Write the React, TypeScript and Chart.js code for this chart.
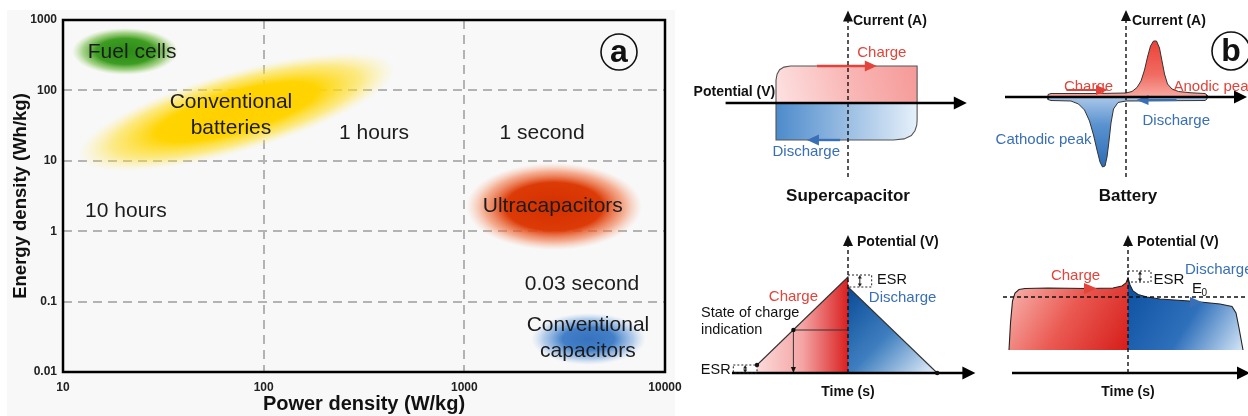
import React, { useEffect, useRef } from 'react';
import { Chart, registerables } from 'chart.js';

Chart.register(...registerables);

const FONT = '"Liberation Sans", Arial, Helvetica, sans-serif';

// ---------------- Panel (a): Ragone plot ----------------
const powerTicks = [10, 100, 1000, 10000];
const powerTickLabels = ['10', '100', '1000', '10000'];
const energyTicks = [0.01, 0.1, 1, 10, 100, 1000];
const energyTickLabels = ['0.01', '0.1', '1', '10', '100', '1000'];

const regionNames = ['Fuel cells', 'Conventional batteries', 'Ultracapacitors', 'Conventional capacitors'];
const regionPowerMin = [11.1, 11.9, 1020, 2150];
const regionPowerMax = [37.4, 451, 7670, 8030];
const regionEnergyMin = [166, 11.3, 0.54, 0.0126];
const regionEnergyMax = [770, 215, 9.3, 0.069];

const labelTexts = ['Fuel cells', 'Conventional\nbatteries', '1 hours', '1 second', '10 hours', 'Ultracapacitors', '0.03 second', 'Conventional\ncapacitors'];
const labelPower = [22.1, 68.7, 355, 2440, 20.6, 2760, 3860, 4130];
const labelEnergy = [352, 44.9, 24.9, 24.9, 1.95, 2.3, 0.174, 0.0299];

// ---------------- Panel (b): schematic curves ----------------
// Supercapacitor CV (potential V, current A)
const scCvChargeV = [-1.0, -1.0, -0.985, -0.95, -0.89, -0.8, 0.96, 0.96];
const scCvChargeI = [0, 0.62, 0.78, 0.9, 0.97, 1.0, 1.0, 0];
const scCvDischargeV = [-1.0, -1.0, 0.63, 0.78, 0.88, 0.93, 0.955, 0.96, 0.96];
const scCvDischargeI = [0, -1.0, -1.0, -0.97, -0.88, -0.75, -0.6, -0.46, 0];

// Battery CV (potential V, current A)
const batCvChargeV = [-1.56, -1.56, -1.5, -0.6, 0.0, 0.12, 0.22, 0.3, 0.37, 0.43, 0.49, 0.55, 0.61, 0.67, 0.72, 0.77, 0.83, 0.92, 1.05, 1.3, 1.58, 1.62, 1.62];
const batCvChargeI = [0, 0.25, 0.35, 0.35, 0.4, 0.55, 0.95, 1.6, 2.7, 4.0, 5.1, 5.6, 5.6, 4.9, 3.6, 2.3, 1.3, 0.8, 0.55, 0.42, 0.35, 0.2, 0];
const batCvDischargeV = [-1.56, -1.56, -1.5, -1.1, -0.95, -0.83, -0.73, -0.65, -0.58, -0.52, -0.47, -0.42, -0.38, -0.34, -0.3, -0.25, -0.16, 0, 1.58, 1.62, 1.62];
const batCvDischargeI = [0, -0.25, -0.35, -0.4, -0.7, -1.3, -2.4, -3.8, -5.3, -6.5, -7.0, -6.9, -6.0, -4.4, -2.6, -1.2, -0.55, -0.4, -0.35, -0.2, 0];

// Supercapacitor galvanostatic charge/discharge (time s, potential V)
const scGcdChargeT = [-10, -10, 0, 0];
const scGcdChargeU = [0, 0.8, 9.6, 0];
const scGcdDischargeT = [0, 0, 9.8];
const scGcdDischargeU = [0, 8.6, 0];
const scSocT = -6;
const scSocU = 4.3;

// Battery galvanostatic charge/discharge (time s, potential V)
const batGcdBase = 2.3;
const batGcdChargeT = [-11.9, -11.75, -11.55, -11.3, -10.9, -10.3, -8, -4, -1.5, -0.6, -0.2, 0, 0];
const batGcdChargeU = [2.3, 5.0, 7.2, 8.0, 8.35, 8.45, 8.5, 8.45, 8.5, 8.7, 9.0, 9.5, 2.3];
const batGcdDischargeT = [0, 0, 0.2, 0.5, 1.0, 1.9, 3.2, 6.5, 9.2, 10.4, 10.8, 11.1, 11.5];
const batGcdDischargeU = [2.3, 9.5, 8.8, 8.2, 7.85, 7.6, 7.4, 7.17, 6.9, 6.65, 6.0, 4.5, 2.3];
const batE0 = 7.6;

// ---------------- styles ----------------
const regionStyles: any[] = [
  { tilt: 0, stops: [[0, '#2a8a14'], [0.55, '#3d9c22'], [0.8, 'rgba(100,180,50,0.55)'], [1, 'rgba(150,210,100,0)']] },
  { tilt: 40, stops: [[0, '#ffd000'], [0.5, '#ffd400'], [0.78, 'rgba(255,222,40,0.55)'], [1, 'rgba(255,235,120,0)']] },
  { tilt: 0, stops: [[0, '#d33000'], [0.55, '#dc3a06'], [0.8, 'rgba(240,110,60,0.55)'], [1, 'rgba(250,160,120,0)']] },
  { tilt: 0, stops: [[0, '#3672be'], [0.45, '#4380c8'], [0.78, 'rgba(110,160,220,0.5)'], [1, 'rgba(160,195,235,0)']] },
];
const RED = '#e0443a';
const BLUE = '#3a6fb5';

function setFont(c: CanvasRenderingContext2D, size: number, weight = 'normal') {
  c.font = `${weight} ${size}px ${FONT}`;
}
function txt(c: CanvasRenderingContext2D, s: string, x: number, y: number, size: number, color = '#111', align: CanvasTextAlign = 'center', weight = 'normal') {
  c.save();
  setFont(c, size, weight);
  c.fillStyle = color;
  c.textAlign = align;
  c.textBaseline = 'middle';
  c.fillText(s, x, y);
  c.restore();
}
function arrowHead(c: CanvasRenderingContext2D, tx: number, ty: number, ang: number, len: number, w: number, color: string) {
  c.save();
  c.translate(tx, ty);
  c.rotate(ang);
  c.fillStyle = color;
  c.beginPath();
  c.moveTo(0, 0);
  c.lineTo(-len, -w / 2);
  c.lineTo(-len, w / 2);
  c.closePath();
  c.fill();
  c.restore();
}
function arrow(c: CanvasRenderingContext2D, x0: number, y0: number, x1: number, y1: number, color: string, lw: number, len: number, w: number) {
  const ang = Math.atan2(y1 - y0, x1 - x0);
  c.save();
  c.strokeStyle = color;
  c.lineWidth = lw;
  c.beginPath();
  c.moveTo(x0, y0);
  c.lineTo(x1 - Math.cos(ang) * len * 0.8, y1 - Math.sin(ang) * len * 0.8);
  c.stroke();
  c.restore();
  arrowHead(c, x1, y1, ang, len, w, color);
}
function dashedAxis(c: CanvasRenderingContext2D, x: number, yBottom: number, yTip: number) {
  c.save();
  c.strokeStyle = '#111';
  c.lineWidth = 1.4;
  c.setLineDash([4, 3]);
  c.beginPath();
  c.moveTo(x, yBottom);
  c.lineTo(x, yTip + 8);
  c.stroke();
  c.restore();
  arrowHead(c, x, yTip, -Math.PI / 2, 11, 10, '#111');
}
function dashedH(c: CanvasRenderingContext2D, x0: number, x1: number, y: number) {
  c.save();
  c.strokeStyle = '#111';
  c.lineWidth = 1.3;
  c.setLineDash([4, 3]);
  c.beginPath();
  c.moveTo(x0, y);
  c.lineTo(x1, y);
  c.stroke();
  c.restore();
}
function dashedBox(c: CanvasRenderingContext2D, x0: number, y0: number, x1: number, y1: number) {
  c.save();
  c.strokeStyle = '#222';
  c.lineWidth = 1;
  c.setLineDash([2, 2]);
  c.strokeRect(Math.min(x0, x1), Math.min(y0, y1), Math.abs(x1 - x0), Math.abs(y1 - y0));
  c.restore();
}
function doubleArrowV(c: CanvasRenderingContext2D, x: number, y0: number, y1: number) {
  c.save();
  c.strokeStyle = '#222';
  c.lineWidth = 1;
  c.beginPath();
  c.moveTo(x, y0 + 3);
  c.lineTo(x, y1 - 3);
  c.stroke();
  c.restore();
  arrowHead(c, x, Math.min(y0, y1), -Math.PI / 2, 3.5, 4, '#222');
  arrowHead(c, x, Math.max(y0, y1), Math.PI / 2, 3.5, 4, '#222');
}
function dot(c: CanvasRenderingContext2D, x: number, y: number, r = 2.2) {
  c.save();
  c.fillStyle = '#111';
  c.beginPath();
  c.arc(x, y, r, 0, Math.PI * 2);
  c.fill();
  c.restore();
}
function circledLetter(c: CanvasRenderingContext2D, s: string, x: number, y: number, r: number) {
  c.save();
  c.strokeStyle = '#111';
  c.lineWidth = 1.6;
  c.beginPath();
  c.arc(x, y, r, 0, Math.PI * 2);
  c.stroke();
  c.restore();
  txt(c, s, x, y + 1, 32, '#111', 'center', 'bold');
}

// ---------------- Panel (a) config ----------------
const ragonePlugin = {
  id: 'ragone',
  beforeDraw(chart: any) {
    const c = chart.ctx;
    c.save();
    c.fillStyle = '#f8f8f8';
    c.fillRect(7, 10, 668, 406);
    c.restore();
  },
  beforeDatasetsDraw(chart: any) {
    const c: CanvasRenderingContext2D = chart.ctx;
    const xs = chart.scales.x;
    const ys = chart.scales.y;
    const { left, top, right, bottom } = chart.chartArea;
    c.save();
    c.beginPath();
    c.rect(left, top, right - left, bottom - top);
    c.clip();
    regionNames.forEach((_, i) => {
      const x0 = xs.getPixelForValue(regionPowerMin[i]);
      const x1 = xs.getPixelForValue(regionPowerMax[i]);
      const y0 = ys.getPixelForValue(regionEnergyMin[i]);
      const y1 = ys.getPixelForValue(regionEnergyMax[i]);
      const st = regionStyles[i];
      const cx = (x0 + x1) / 2;
      const cy = (y0 + y1) / 2;
      let rx: number, ry: number, ang: number;
      if (st.tilt) {
        rx = Math.hypot(x1 - x0, y1 - y0) / 2;
        ry = st.tilt;
        ang = Math.atan2(y1 - y0, x1 - x0);
      } else {
        rx = Math.abs(x1 - x0) / 2;
        ry = Math.abs(y1 - y0) / 2;
        ang = 0;
      }
      c.save();
      c.translate(cx, cy);
      c.rotate(ang);
      c.scale(rx, ry);
      const g = c.createRadialGradient(0, 0, 0, 0, 0, 1);
      st.stops.forEach(([o, col]: any) => g.addColorStop(o, col));
      c.fillStyle = g;
      c.beginPath();
      c.arc(0, 0, 1, 0, Math.PI * 2);
      c.fill();
      c.restore();
    });
    c.restore();
    labelTexts.forEach((t, i) => {
      const x = xs.getPixelForValue(labelPower[i]);
      const y = ys.getPixelForValue(labelEnergy[i]);
      const lines = t.split('\n');
      lines.forEach((ln, k) => {
        txt(c, ln, x, y + (k - (lines.length - 1) / 2) * 26, 21, '#1c1c1c');
      });
    });
  },
  afterDatasetsDraw(chart: any) {
    const c: CanvasRenderingContext2D = chart.ctx;
    const { left, top, right, bottom } = chart.chartArea;
    c.save();
    c.strokeStyle = '#000';
    c.lineWidth = 2.5;
    c.strokeRect(left, top, right - left, bottom - top);
    c.restore();
    circledLetter(c, 'a', right - 46, top + 32, 18);
  },
};

function ragoneConfig(): any {
  return {
    type: 'scatter',
    data: {
      datasets: [
        {
          data: regionNames.map((_, i) => ({
            x: Math.sqrt(regionPowerMin[i] * regionPowerMax[i]),
            y: Math.sqrt(regionEnergyMin[i] * regionEnergyMax[i]),
          })),
          pointRadius: 0,
        },
      ],
    },
    options: {
      responsive: false,
      animation: false,
      devicePixelRatio: 1,
      layout: { padding: { top: 20, right: 25, left: 0, bottom: 0 } },
      plugins: { legend: { display: false }, tooltip: { enabled: false } },
      scales: {
        x: {
          type: 'logarithmic',
          min: 10,
          max: 10000,
          afterBuildTicks: (s: any) => {
            s.ticks = powerTicks.map((v) => ({ value: v }));
          },
          afterFit: (s: any) => {
            s.height = 44;
            s.paddingLeft = 0;
            s.paddingRight = 0;
          },
          ticks: {
            callback: (_v: any, i: number) => powerTickLabels[i],
            font: { family: FONT, size: 12, weight: 'bold' },
            color: '#222',
            padding: 8,
            maxRotation: 0,
            autoSkip: false,
          },
          grid: { color: '#b3b3b3', lineWidth: 2, drawTicks: false },
          border: { display: false, dash: [9, 6] },
          title: {
            display: true,
            text: 'Power density (W/kg)',
            font: { family: FONT, size: 20, weight: 'bold' },
            color: '#111',
            padding: { top: 0, bottom: 0 },
          },
        },
        y: {
          type: 'logarithmic',
          min: 0.01,
          max: 1000,
          afterBuildTicks: (s: any) => {
            s.ticks = energyTicks.map((v) => ({ value: v }));
          },
          afterFit: (s: any) => {
            s.width = 63;
            s.paddingTop = 0;
            s.paddingBottom = 0;
          },
          ticks: {
            callback: (_v: any, i: number) => energyTickLabels[i],
            font: { family: FONT, size: 12, weight: 'bold' },
            color: '#222',
            padding: 6,
            autoSkip: false,
          },
          grid: { color: '#b3b3b3', lineWidth: 2, drawTicks: false },
          border: { display: false, dash: [9, 6] },
          title: {
            display: true,
            text: 'Energy density (Wh/kg)',
            font: { family: FONT, size: 18.5, weight: 'bold' },
            color: '#111',
            padding: { top: 10, bottom: 0 },
          },
        },
      },
    },
    plugins: [ragonePlugin],
  };
}

// ---------------- Panel (b) helpers ----------------
function area(xs: number[], ys: number[], fill: any, dir: string, stops: any[], opts: any = {}) {
  const ds: any = {
    data: xs.map((x, i) => ({ x, y: ys[i] })),
    fill,
    borderColor: opts.border || '#333',
    borderWidth: opts.bw ?? 1.1,
    pointRadius: 0,
    tension: 0,
    backgroundColor: (ctx: any) => {
      const chart = ctx.chart;
      if (!chart.chartArea) return stops[0][1];
      const X = (v: number) => chart.scales.x.getPixelForValue(v);
      const Y = (v: number) => chart.scales.y.getPixelForValue(v);
      const l = X(Math.min(...xs));
      const r = X(Math.max(...xs));
      const t = Y(Math.max(...ys));
      const b = Y(Math.min(...ys));
      let p = [l, (t + b) / 2, r, (t + b) / 2];
      if (dir === 'tb') p = [(l + r) / 2, t, (l + r) / 2, b];
      if (dir === 'bt') p = [(l + r) / 2, b, (l + r) / 2, t];
      if (dir === 'tlbr') p = [l, t, r, b];
      if (dir === 'bltr') p = [l, b, r, t];
      const g = chart.ctx.createLinearGradient(p[0], p[1], p[2], p[3]);
      stops.forEach(([o, col]: any) => g.addColorStop(o, col));
      return g;
    },
  };
  if (opts.hideVertical) {
    ds.segment = {
      borderColor: (s: any) => (Math.abs(s.p0.parsed.x - s.p1.parsed.x) < 1e-9 ? 'rgba(0,0,0,0)' : undefined),
    };
  }
  return ds;
}

function bConfig(xMin: number, xMax: number, yMin: number, yMax: number, padding: any, datasets: any[], draw: (chart: any) => void): any {
  return {
    type: 'line',
    data: { datasets },
    options: {
      responsive: false,
      animation: false,
      devicePixelRatio: 1,
      layout: { padding },
      plugins: { legend: { display: false }, tooltip: { enabled: false } },
      scales: {
        x: { type: 'linear', min: xMin, max: xMax, display: false },
        y: { type: 'linear', min: yMin, max: yMax, display: false },
      },
      elements: { point: { radius: 0 }, line: { tension: 0 } },
    },
    plugins: [{ id: 'annot', afterDatasetsDraw: (chart: any) => draw(chart) }],
  };
}

function mapper(chart: any) {
  const X = (v: number) => chart.scales.x.getPixelForValue(v);
  const Y = (v: number) => chart.scales.y.getPixelForValue(v);
  return { c: chart.ctx as CanvasRenderingContext2D, X, Y };
}

function scCvConfig() {
  return bConfig(
    -1.75, 1.75, -2, 2.5,
    { left: 42, right: 6, top: 10.5, bottom: 33 },
    [
      area(scCvChargeV, scCvChargeI, 'origin', 'bltr', [[0, '#fde2e2'], [0.5, '#f9b8b7'], [1, '#f59a98']], { border: '#555' }),
      area(scCvDischargeV, scCvDischargeI, 'origin', 'lr', [[0, '#4d8bcb'], [1, '#e6f0fa']], { border: '#555' }),
    ],
    (chart) => {
      const { c, X, Y } = mapper(chart);
      arrow(c, X(-0.43), Y(1), X(0.4), Y(1), RED, 2.4, 12, 11);
      arrow(c, X(-0.11), Y(-1), X(-0.57), Y(-1), BLUE, 2.4, 12, 11);
      arrow(c, X(-1.7), Y(0), X(1.65), Y(0), '#000', 2.5, 13, 13);
      dashedAxis(c, X(0), Y(-2), Y(2.5));
      txt(c, 'Current (A)', X(0) + 5, Y(2.22), 14, '#111', 'left', 'bold');
      txt(c, 'Potential (V)', X(-1.01), Y(0.3), 14, '#111', 'right', 'bold');
      txt(c, 'Charge', X(0.47), Y(1.35), 15, RED);
      txt(c, 'Discharge', X(-0.58), Y(-1.32), 15, BLUE);
      txt(c, 'Supercapacitor', X(0), Y(-2.51), 17, '#111', 'center', 'bold');
    }
  );
}

function batCvConfig() {
  return bConfig(
    -2.5, 2.4, -8, 8.7,
    { left: 21, right: 2, top: 10, bottom: 33 },
    [
      area(batCvChargeV, batCvChargeI, 'origin', 'tb', [[0, '#ec4238'], [0.6, '#f06c62'], [1, '#f7aaa1']], { border: '#333', bw: 1 }),
      area(batCvDischargeV, batCvDischargeI, 'origin', 'bt', [[0, '#2d6db7'], [0.6, '#5a92cf'], [1, '#a9c7e8']], { border: '#333', bw: 1 }),
    ],
    (chart) => {
      const { c, X, Y } = mapper(chart);
      arrow(c, X(-1.19), Y(0.7), X(-0.36), Y(0.7), RED, 2.2, 12, 10);
      arrow(c, X(1.01), Y(-0.3), X(0.21), Y(-0.3), BLUE, 2.2, 12, 10);
      arrow(c, X(-2.42), Y(0), X(2.42), Y(0), '#000', 2.5, 13, 13);
      dashedAxis(c, X(0), Y(-8), Y(8.7));
      txt(c, 'Current (A)', X(0) + 6, Y(7.6), 14, '#111', 'left', 'bold');
      txt(c, 'Charge', X(-0.75), Y(1.0), 15, RED);
      txt(c, 'Anodic peak', X(0.95), Y(1.0), 15, RED, 'left');
      txt(c, 'Discharge', X(0.33), Y(-2.4), 15, BLUE, 'left');
      txt(c, 'Cathodic peak', X(-0.69), Y(-4.3), 15, BLUE, 'right');
      txt(c, 'Battery', X(0.04), Y(-9.9), 17, '#111', 'center', 'bold');
      circledLetter(c, 'b', X(2.1), Y(4.6), 19);
    }
  );
}

function scGcdConfig() {
  return bConfig(
    -13, 14, -2.3, 13.8,
    { left: 49.7, right: 4.6, top: 25, bottom: 20 },
    [
      area(scGcdChargeT, scGcdChargeU, 'origin', 'lr', [[0, '#fcdada'], [0.5, '#f5a4a4'], [1, '#d92020']], { border: '#333', hideVertical: true }),
      area(scGcdDischargeT, scGcdDischargeU, 'origin', 'tlbr', [[0, '#0a4a96'], [0.5, '#3f7fc0'], [1, '#eaf2fb']], { border: '#333', hideVertical: true }),
    ],
    (chart) => {
      const { c, X, Y } = mapper(chart);
      // state of charge guide
      c.save();
      c.strokeStyle = '#333';
      c.lineWidth = 1;
      c.beginPath();
      c.moveTo(X(scSocT), Y(scSocU));
      c.lineTo(X(0), Y(scSocU));
      c.moveTo(X(scSocT), Y(scSocU));
      c.lineTo(X(scSocT), Y(0) - 4);
      c.stroke();
      c.restore();
      arrowHead(c, X(scSocT), Y(0), Math.PI / 2, 6, 5, '#111');
      arrow(c, X(-12.75), Y(0), X(14), Y(0), '#000', 2.5, 13, 13);
      dashedAxis(c, X(0), Y(0), Y(13.8));
      dot(c, X(scGcdChargeT[1]), Y(scGcdChargeU[1]));
      dot(c, X(scSocT), Y(scSocU));
      dot(c, X(scGcdDischargeT[2]), Y(0));
      // ESR markers
      dashedBox(c, X(0), Y(8.6), X(2.6), Y(9.8));
      doubleArrowV(c, X(1.3), Y(9.8), Y(8.6));
      dashedBox(c, X(-12.6), Y(0), X(-10), Y(0.8));
      doubleArrowV(c, X(-11.3), Y(0.8), Y(0));
      txt(c, 'Potential (V)', X(0) + 9, Y(13.1), 14, '#111', 'left', 'bold');
      txt(c, 'Charge', X(-6), Y(7.6), 15, RED);
      txt(c, 'Discharge', X(6.0), Y(7.5), 15, BLUE);
      txt(c, 'State of charge', X(-16.15), Y(6.0), 14.5, '#111', 'left');
      txt(c, 'indication', X(-16.15), Y(4.3), 14.5, '#111', 'left');
      txt(c, 'ESR', X(3.2), Y(9.3), 14.5, '#111', 'left');
      txt(c, 'ESR', X(-12.9), Y(0.3), 14.5, '#111', 'right');
      txt(c, 'Time (s)', X(0), Y(-1.9), 14, '#111', 'center', 'bold');
    }
  );
}

function batGcdConfig() {
  return bConfig(
    -12, 12, -2.3, 13.8,
    { left: 28, right: 0, top: 25, bottom: 20 },
    [
      area(batGcdChargeT, batGcdChargeU, { value: batGcdBase }, 'tlbr', [[0, '#f9bab5'], [0.5, '#ea5a52'], [1, '#d61d1a']], { border: '#222', hideVertical: true }),
      area(batGcdDischargeT, batGcdDischargeU, { value: batGcdBase }, 'tlbr', [[0, '#0b4f9f'], [0.55, '#2f70bb'], [1, '#d5e6f6']], { border: '#222', hideVertical: true }),
    ],
    (chart) => {
      const { c, X, Y } = mapper(chart);
      dashedH(c, X(-12.5), X(12.2), Y(batE0));
      arrowHead(c, X(-3.1), Y(8.45), 0, 13, 11, RED);
      arrowHead(c, X(7.5), Y(7.05), 0, 13, 11, BLUE);
      arrow(c, X(-11.6), Y(0), X(12.2), Y(0), '#000', 2.5, 13, 13);
      dashedAxis(c, X(0), Y(0), Y(13.8));
      dashedBox(c, X(0), Y(9.1), X(2.3), Y(10.2));
      doubleArrowV(c, X(1.2), Y(10.2), Y(9.1));
      txt(c, 'Potential (V)', X(0) + 9, Y(13.1), 14, '#111', 'left', 'bold');
      txt(c, 'Charge', X(-5.25), Y(9.7), 15, RED);
      txt(c, 'ESR', X(2.55), Y(9.3), 15, '#111', 'left');
      txt(c, 'Discharge', X(5.7), Y(10.3), 15, BLUE, 'left');
      txt(c, 'E', X(6.4), Y(8.4), 15, '#111', 'left');
      txt(c, '0', X(7.35), Y(7.95), 10, '#111', 'left');
      txt(c, 'Time (s)', X(0), Y(-1.9), 14, '#111', 'center', 'bold');
    }
  );
}

const boxes = [
  { l: 0, t: 0, w: 690, h: 416 },
  { l: 680, t: 0, w: 300, h: 210 },
  { l: 980, t: 0, w: 268, h: 210 },
  { l: 680, t: 210, w: 300, h: 206 },
  { l: 980, t: 210, w: 268, h: 206 },
];

export default function App() {
  const r0 = useRef<HTMLCanvasElement>(null);
  const r1 = useRef<HTMLCanvasElement>(null);
  const r2 = useRef<HTMLCanvasElement>(null);
  const r3 = useRef<HTMLCanvasElement>(null);
  const r4 = useRef<HTMLCanvasElement>(null);
  const refs = [r0, r1, r2, r3, r4];

  useEffect(() => {
    const configs = [ragoneConfig(), scCvConfig(), batCvConfig(), scGcdConfig(), batGcdConfig()];
    const charts = configs.map((cfg, i) => new Chart(refs[i].current as HTMLCanvasElement, cfg));
    return () => charts.forEach((ch) => ch.destroy());
  }, []);

  return (
    <div style={{ position: 'fixed', left: 0, top: 0, width: 1248, height: 416, background: '#fff', overflow: 'hidden' }}>
      {boxes.map((b, i) => (
        <canvas
          key={i}
          ref={refs[i]}
          width={b.w}
          height={b.h}
          style={{ position: 'absolute', left: b.l, top: b.t, width: b.w, height: b.h }}
        />
      ))}
    </div>
  );
}
